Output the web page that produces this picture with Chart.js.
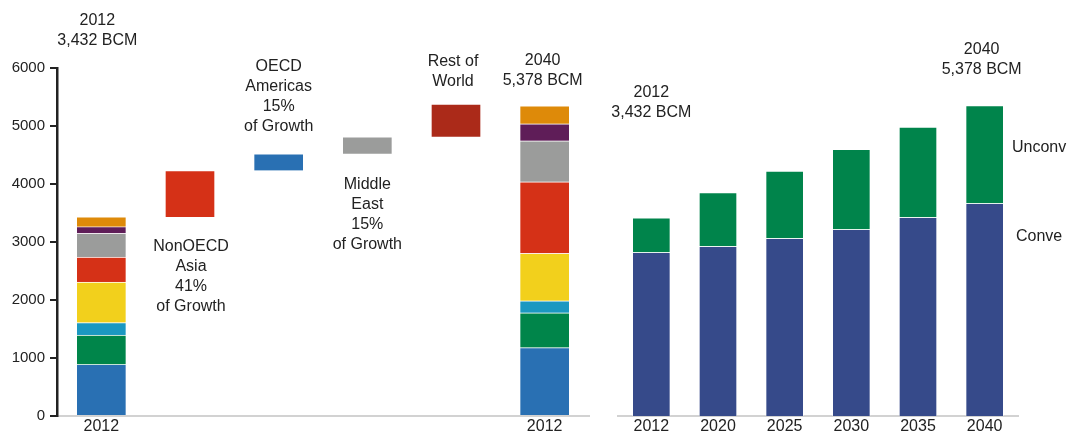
<!DOCTYPE html>
<html>
<head>
<meta charset="utf-8">
<script src="https://cdn.jsdelivr.net/npm/chart.js@4"></script>
<style>
  html, body { margin: 0; padding: 0; background: #fff; }
  #wrap { position: relative; width: 1068px; height: 437px; overflow: hidden; }
  #left { position: absolute; left: 0; top: 0; }
  #right { position: absolute; left: 600px; top: 0; }
</style>
</head>
<body>
<div id="wrap">
  <canvas id="left" width="600" height="437"></canvas>
  <canvas id="right" width="468" height="437"></canvas>
</div>
<script>
// Left: regional waterfall 2012 -> 2040 (BCM)
const steps = ["2012", "NonOECD Asia", "OECD Americas", "Middle East", "Rest of World", "2040"];
const stepTicks = ["2012", "", "", "", "", "2012"];
const regions = ["OECD Americas", "OECD Europe", "OECD Asia", "NonOECD Europe & Eurasia",
    "NonOECD Asia", "Middle East", "Africa", "Central & South America"];
const regionColors = ["#2970b3", "#00854a", "#1b98c1", "#f2d01c", "#d53117", "#9b9c9b", "#5f1d58", "#de8a09"];
const gas2012 = [890, 505, 215, 700, 430, 410, 115, 167];
const gas2040 = [1180, 600, 207, 817, 1235, 707, 293, 310];
const growthBase = [null, 3432, 4232, 4522, 4814, null];
const growth = [null, 800, 290, 292, 564, null];
const growthColors = [null, "#d53117", "#2970b3", "#9b9c9b", "#ab2a19", null];

// Right: conventional vs unconventional (BCM)
const years = ["2012", "2020", "2025", "2030", "2035", "2040"];
const conventional = [2822, 2926, 3064, 3219, 3426, 3667];
const unconventional = [595, 927, 1160, 1379, 1557, 1683];

const FONT = '"Liberation Sans", Arial, sans-serif';
const INK = "#222";
const EDGE = "rgba(255,255,255,0.4)";

// text notes drawn next to the bars
const notesPlugin = {
    id: "notes",
    afterDraw(chart, args, opts) {
        const ctx = chart.ctx;
        const xs = chart.scales.x;
        ctx.save();
        ctx.font = "16px " + FONT;
        ctx.fillStyle = INK;
        ctx.textBaseline = "middle";
        for (const n of opts.items) {
            const px = n.i !== undefined ? xs.getPixelForValue(n.i) + (n.dx || 0) : chart.chartArea.right + n.dx;
            ctx.textAlign = n.align || "center";
            n.lines.forEach((t, k) => ctx.fillText(t, px, n.y + k * 20));
        }
        ctx.restore();
    }
};

function xAxis(labels) {
    return {
        stacked: true,
        ticks: {
            color: INK, font: { size: 16, family: FONT }, padding: 1,
            maxRotation: 0, autoSkip: false, callback: (v, i) => labels[i]
        },
        grid: { display: false, drawTicks: false },
        border: { display: true, color: "#d2d2d2", width: 2 },
        afterFit: s => { s.height = 21; }
    };
}

let leftSets = regions.map((r, k) => ({
    label: r,
    data: [gas2012[k], null, null, null, null, gas2040[k]],
    backgroundColor: regionColors[k],
    borderColor: EDGE,
    borderWidth: 1,
}));
leftSets.push({
    label: "base",
    data: growthBase,
    backgroundColor: "rgba(0,0,0,0)",
    borderWidth: 0,
});
leftSets.push({
    label: "growth",
    data: growth,
    backgroundColor: growthColors,
    borderColor: EDGE,
    borderWidth: 1,
});

new Chart("left", {
    type: "bar",
    data: { labels: steps, datasets: leftSets },
    options: {
        responsive: false,
        animation: false,
        devicePixelRatio: 1,
        barThickness: 50,
        layout: { padding: { left: 0, right: 11, top: 68, bottom: 0 } },
        plugins: {
            legend: { display: false },
            tooltip: { enabled: false },
            notes: {
                items: [
                    { i: 0, dx: -4, y: 21, lines: ["2012", "3,432 BCM"] },
                    { i: 1, dx: 1, y: 247, lines: ["NonOECD", "Asia", "41%", "of Growth"] },
                    { i: 2, dx: 0, y: 67, lines: ["OECD", "Americas", "15%", "of Growth"] },
                    { i: 3, dx: 0, y: 185, lines: ["Middle", "East", "15%", "of Growth"] },
                    { i: 4, dx: -3, y: 62, lines: ["Rest of", "World"] },
                    { i: 5, dx: -2, y: 61, lines: ["2040", "5,378 BCM"] },
                ]
            }
        },
        scales: {
            x: xAxis(stepTicks),
            y: {
                stacked: true,
                min: 0,
                max: 6000,
                ticks: { stepSize: 1000, color: INK, font: { size: 15, family: FONT }, padding: 5, callback: v => String(v) },
                grid: { drawOnChartArea: false, drawTicks: true, tickLength: 7, color: INK, lineWidth: 2 },
                border: { display: true, color: INK, width: 2.5 },
                afterFit: s => { s.width = 57; }
            }
        }
    },
    plugins: [notesPlugin]
});

new Chart("right", {
    type: "bar",
    data: {
        labels: years,
        datasets: [
            { label: "Conventional", data: conventional, backgroundColor: "#364a8a", borderColor: EDGE, borderWidth: 1 },
            { label: "Unconventional", data: unconventional, backgroundColor: "#00844b", borderColor: EDGE, borderWidth: 1 },
        ]
    },
    options: {
        responsive: false,
        animation: false,
        devicePixelRatio: 1,
        barThickness: 38,
        layout: { padding: { left: 18, right: 50, top: 68, bottom: 0 } },
        plugins: {
            legend: { display: false },
            tooltip: { enabled: false },
            notes: {
                items: [
                    { i: 0, dx: 0, y: 93, lines: ["2012", "3,432 BCM"] },
                    { i: 5, dx: -3, y: 50, lines: ["2040", "5,378 BCM"] },
                    { dx: -6, y: 148, align: "left", lines: ["Unconv"] },
                    { dx: -2, y: 237, align: "left", lines: ["Conve"] },
                ]
            }
        },
        scales: {
            x: xAxis(years),
            y: { display: false, stacked: true, min: 0, max: 6000 }
        }
    },
    plugins: [notesPlugin]
});
</script>
</body>
</html>
